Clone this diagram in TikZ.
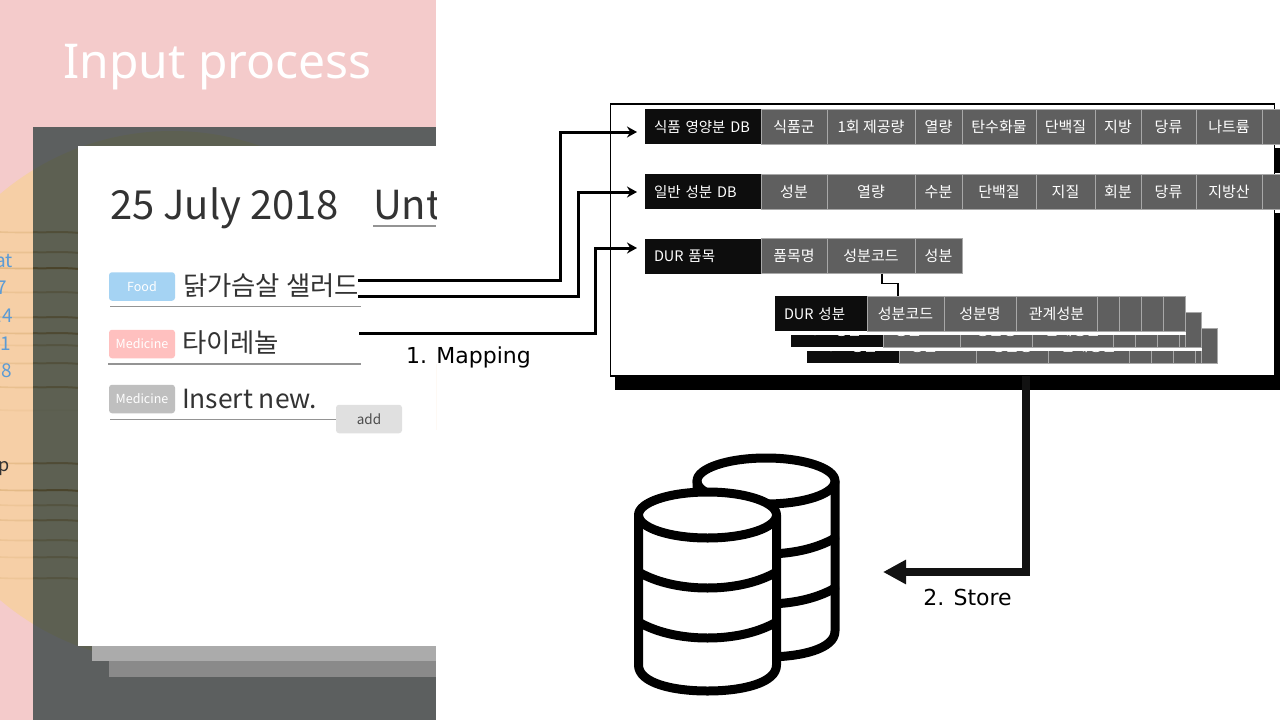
\documentclass[tikz,border=0pt]{standalone}
\usepackage{fontspec}
\usetikzlibrary{arrows.meta,calc}
\setmainfont{Noto Sans CJK KR}
\newfontfamily\dejavu{DejaVu Sans}
\newfontfamily\notolatin{Noto Sans}
\definecolor{pinkbg}{HTML}{F4CBCB}
\definecolor{wood}{HTML}{F6CFA6}
\definecolor{grain}{HTML}{DDB27A}
\definecolor{graindark}{HTML}{3F3010}
\definecolor{overlaycol}{RGB}{12,38,38}
\definecolor{cellgray}{HTML}{5F5F5F}
\definecolor{cellblack}{HTML}{0D0D0D}
\definecolor{cellline}{HTML}{A8A8A8}
\definecolor{inktext}{HTML}{333333}
\definecolor{bluetext}{HTML}{5B9BD5}
\tikzset{
  every node/.style={inner sep=0pt,outer sep=0pt},
  cellg/.style={draw=cellline,line width=0.9pt,fill=cellgray,text=white,font=\fontsize{15}{15}\selectfont,anchor=center,text height=11.5pt,text depth=0pt},
  cellk/.style={fill=cellblack,text=white,font=\fontsize{14.5}{15}\selectfont,anchor=center,align=left,text height=11.5pt,text depth=0pt},
  tagbox/.style={rounded corners=3pt,text=white,font=\fontsize{12.5}{13}\selectfont,minimum width=66pt,minimum height=28.5pt,anchor=center},
  rule/.style={draw=black!42,line width=1.1pt},
  entry/.style={text=inktext,anchor=base west,font=\fontsize{26.4}{28}\selectfont},
  sidetext/.style={text=bluetext,anchor=east,font=\fontsize{19}{20}\selectfont},
  maplink/.style={draw=black,line width=3pt,-{Stealth[length=10pt,width=11pt]}},
  steplabel/.style={text=black,anchor=center,font=\dejavu\fontsize{22}{24}\selectfont},
  dbcyl/.pic={
    \fill[white] (0,0) ellipse[x radius=69,y radius=23];
    \fill[white] (-69,0) -- (-69,150) .. controls (-69,168) and (-35,176) .. (0,176) .. controls (35,176) and (69,168) .. (69,150) -- (69,0) -- cycle;
    \draw[line width=9pt,line join=round] (0,0) ellipse[x radius=69,y radius=23];
    \draw[line width=9pt,line join=round] (-69,0) -- (-69,150) .. controls (-69,168) and (-35,176) .. (0,176) .. controls (35,176) and (69,168) .. (69,150) -- (69,0);
    \draw[line width=9pt] (-69,57) .. controls (-50,68) and (-25,73) .. (0,73) .. controls (25,73) and (50,68) .. (69,57);
    \draw[line width=9pt] (-69,107) .. controls (-50,118) and (-25,123) .. (0,123) .. controls (25,123) and (50,118) .. (69,107);
  }
}
\newcommand{\cellat}[6]{% name, style, x0, x1, ytop, text
  \node[#2,minimum width={((#4)-(#3))*1pt},minimum height=35pt] (#1) at ({((#3)+(#4))/2},#5+17.5) {#6};}
\newcommand{\blackat}[5]{% name, x0, x1, ytop, text
  \node[cellk,inner xsep=9pt,text width={((#3)-(#2)-18)*1pt},minimum height=35pt] (#1) at ({((#2)+(#3))/2},#4+17.5) {\mbox{#5}};}
\newcommand{\durrow}[3]{% prefix, offset, extra
  \blackat{#1a}{775+#2}{867+#2}{296+#2}{DUR 성분}
  \cellat{#1b}{cellg}{867+#2}{944+#2}{296+#2}{성분코드}
  \cellat{#1c}{cellg}{944+#2}{1016+#2}{296+#2}{성분명}
  \cellat{#1d}{cellg}{1016+#2}{1097+#2}{296+#2}{관계성분}
  \cellat{#1e}{cellg}{1097+#2}{1119+#2}{296+#2}{}
  \cellat{#1f}{cellg}{1119+#2}{1141+#2}{296+#2}{}
  \cellat{#1g}{cellg}{1141+#2}{1163+#2}{296+#2}{}
  \cellat{#1h}{cellg}{1163+#2}{1185+#2}{296+#2}{}
  #3}
\begin{document}
\begin{tikzpicture}[x=1pt,y=-1pt]
\useasboundingbox (0,0) rectangle (1280,720);
\begin{scope}
\clip (0,0) rectangle (436,720);
% pink panel
\fill[pinkbg] (0,0) rectangle (436,720);
% wood disc
\begin{scope}
  \fill[wood] (172,397) circle[radius=266];
  \clip (172,397) circle[radius=266];
  \foreach \yy/\op in {232/.5,252/.45,268/.8,292/.4,317/.55,333/.6,345/.3,363/.45,387/.5,410/.2,463/.6,490/.7,505/.3,520/.45,540/.35,557/.3,578/.3}
    \draw[grain,opacity=\op,line width=1.6pt] (0,\yy) .. controls (30,\yy+1.5) and (60,\yy-1) .. (90,\yy+1);
\end{scope}
% side text cut by the page edge
\node[sidetext] (s1) at (13,261) {at};
\node[sidetext] (s2) at (7,288) {7};
\node[sidetext] (s3) at (13,316) {14};
\node[sidetext] (s4) at (11,344) {1};
\node[sidetext] (s5) at (12,371) {8};
\node[anchor=east,text=inktext,font=\fontsize{18}{20}\selectfont] (s6) at (10,469) {p};
% dark overlay
\fill[overlaycol,opacity=.65] (33,127) rectangle (436,720);
\begin{scope}
  \clip (33,127) rectangle (78,720);
  \clip (172,397) circle[radius=266];
  \foreach \yy/\op in {232/.3,252/.25,268/.5,292/.2,317/.35,333/.4,345/.2,363/.25,387/.3,463/.35,490/.5,505/.2,520/.3,540/.2,557/.2,578/.2}
    \draw[graindark,opacity=\op,line width=2pt] (33,\yy) .. controls (45,\yy+1) and (60,\yy-1) .. (78,\yy+1);
\end{scope}
% title
\node[text=white,anchor=base,font=\notolatin\fontsize{48}{52}\selectfont] (title) at (217.5,78) {Input process};
% card
\fill[black!33] (92,646) rectangle (436,660.5);
\fill[black!46] (109,660.5) rectangle (436,677);
\fill[white] (78,146) rectangle (436,646);
\node[text=inktext,anchor=base west,font=\fontsize{40}{44}\selectfont] (date) at (110,219) {25 July 2018};
\node[text=inktext,anchor=base west,font=\fontsize{40}{44}\selectfont] (unt) at (373,219) {Unt};
\draw[rule] (373,226) -- (436,226);
\node[tagbox,fill={rgb,255:red,165;green,211;blue,243}] (food) at (142,286.5) {Food};
\node[tagbox,fill={rgb,255:red,255;green,192;blue,191}] (med) at (142,344) {Medicine};
\node[tagbox,fill=black!25] (med2) at (142,399) {Medicine};
\node[entry] (e1) at (183,295) {닭가슴살 샐러드};
\node[entry] (e2) at (182,352) {타이레놀};
\node[entry] (e3) at (182,408) {Insert new.};
\draw[rule] (110,306.5) -- (361,306.5);
\draw[rule] (108,364) -- (361,364);
\draw[rule] (110,419.5) -- (336,419.5);
\node[minimum width=66pt,minimum height=28.5pt,rounded corners=3pt,fill=black!12,text=black!70,font=\fontsize{13.5}{14}\selectfont] (add) at (369,419) {add};
\end{scope}
% table frame
\fill[black] (615,376) rectangle (1280,390);
\node[draw=black,line width=1.3pt,fill=white,minimum width=664pt,minimum height=272pt,anchor=north west] (frame) at (610.5,104) {};
\fill[black] (1274.5,148) rectangle (1280,173);
\fill[black] (1274.5,213) rectangle (1280,390);
% rows
\blackat{a0}{645}{761}{109}{식품 영양분 DB}
\cellat{a1}{cellg}{761}{827}{109}{식품군}
\cellat{a2}{cellg}{827}{915}{109}{1회 제공량}
\cellat{a3}{cellg}{915}{962}{109}{열량}
\cellat{a4}{cellg}{962}{1036}{109}{탄수화물}
\cellat{a5}{cellg}{1036}{1095}{109}{단백질}
\cellat{a6}{cellg}{1095}{1141}{109}{지방}
\cellat{a7}{cellg}{1141}{1196}{109}{당류}
\cellat{a8}{cellg}{1196}{1262}{109}{나트륨}
\cellat{a9}{cellg}{1262}{1282}{109}{}
\blackat{b0}{645}{761}{174}{일반 성분 DB}
\cellat{b1}{cellg}{761}{827}{174}{성분}
\cellat{b2}{cellg}{827}{915}{174}{열량}
\cellat{b3}{cellg}{915}{962}{174}{수분}
\cellat{b4}{cellg}{962}{1036}{174}{단백질}
\cellat{b5}{cellg}{1036}{1095}{174}{지질}
\cellat{b6}{cellg}{1095}{1141}{174}{회분}
\cellat{b7}{cellg}{1141}{1196}{174}{당류}
\cellat{b8}{cellg}{1196}{1262}{174}{지방산}
\cellat{b9}{cellg}{1262}{1282}{174}{}
\blackat{c0}{645}{761}{238.5}{DUR 품목}
\cellat{c1}{cellg}{761}{827}{238.5}{품목명}
\cellat{c2}{cellg}{827}{915}{238.5}{성분코드}
\cellat{c3}{cellg}{915}{962}{238.5}{성분}
% stacked DUR sheets
\durrow{t}{32}{\cellat{ti}{cellg}{1201}{1217}{328}{}}
\fill[white] (791,347) rectangle (1202,351);
\durrow{m}{16}{\cellat{mi}{cellg}{1185}{1201}{312}{}}
\fill[white] (775,331) rectangle (1186,335);
\durrow{d}{0}{}
\draw[line width=1.5pt] ([xshift=11pt]c2.south) -- ++(0,10) -| ([xshift=-7.5pt]db.north);
% mapping connectors
\coordinate (m1) at (358,280);
\coordinate (m2) at (358,296);
\coordinate (m3) at (359,333);
\draw[maplink] (m1) -| (560,132) -- ([xshift=-8pt]a0.west |- 0,132);
\draw[maplink] (m2) -| (578,192) -- ([xshift=-8pt]b0.west |- 0,192);
\draw[maplink] (m3) -| (595,248) -- ([xshift=-8pt]c0.west |- 0,248);
\node[steplabel] (map) at (468.5,357) {1. Mapping};
% databases
\pic[line cap=round] at (766,481) {dbcyl};
\pic[line cap=round] at (707.5,515) {dbcyl};
\coordinate (dbin) at (883,572);
\draw[line width=8pt,draw=black!93,line join=miter,-{Triangle[length=23pt,width=23pt]}] (frame.south -| 1026,0) |- (dbin);
\node[steplabel] (store) at (967.5,597) {2. Store};
\end{tikzpicture}
\end{document}
